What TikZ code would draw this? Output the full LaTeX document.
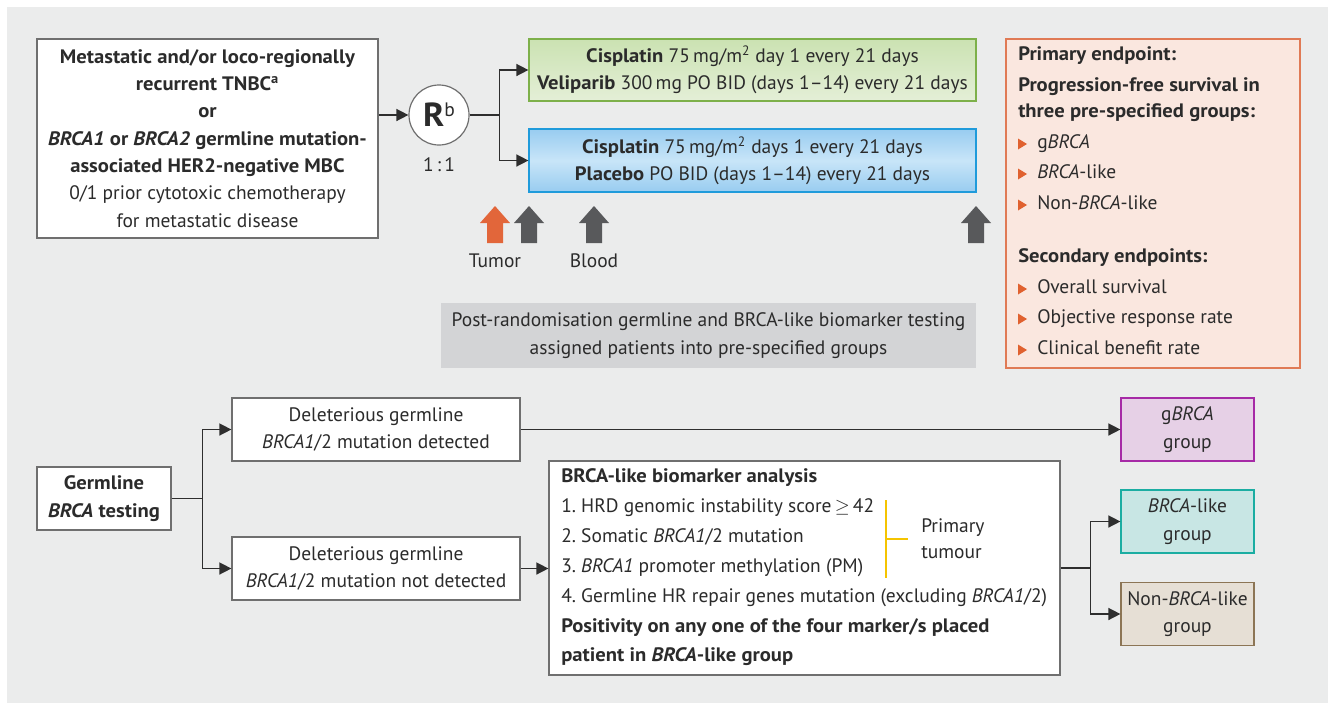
\documentclass[tikz,border=0pt]{standalone}
\usepackage{fontspec}
\setmainfont{PT Sans}[BoldFeatures={FakeStretch=1.06}, BoldItalicFeatures={FakeStretch=1.06}]
\usetikzlibrary{arrows.meta,positioning}

\definecolor{bgcol}{HTML}{EBECEC}
\definecolor{txtcol}{HTML}{2B2B2B}
\definecolor{boxline}{HTML}{6F6F6F}
\definecolor{linecol}{HTML}{2E2E2E}
\definecolor{greenline}{HTML}{7DB04A}
\definecolor{greentop}{HTML}{CBE2B2}
\definecolor{greenbot}{HTML}{E4EFD7}
\definecolor{blueline}{HTML}{1F9BDB}
\definecolor{bluetop}{HTML}{98CCF0}
\definecolor{bluemid}{HTML}{C8E5F8}
\definecolor{epline}{HTML}{E07A55}
\definecolor{epfill}{HTML}{FAE7DF}
\definecolor{bulcol}{HTML}{E0612F}
\definecolor{notecol}{HTML}{D3D4D6}
\definecolor{markgray}{HTML}{58595B}
\definecolor{markorange}{HTML}{E2663A}
\definecolor{ylw}{HTML}{F5C400}
\definecolor{purpline}{HTML}{A62AA6}
\definecolor{purpfill}{HTML}{E6D0E6}
\definecolor{tealline}{HTML}{1BADA2}
\definecolor{tealfill}{HTML}{C8E6E4}
\definecolor{brownline}{HTML}{8C7555}
\definecolor{brownfill}{HTML}{E6DFD5}

\newcommand\txtfont{\fontsize{14.6}{20.5}\selectfont}

\tikzset{
  every node/.append style={text=txtcol, font=\txtfont},
  box/.style={draw=boxline, fill=white, line width=0.9pt, inner sep=0pt, align=center},
  grp/.style={box, minimum width=99.75pt, minimum height=47.25pt},
  ln/.style={anchor=west, inner sep=0pt, text height=10.2pt, text depth=3.1pt},
  conn/.style={draw=linecol, line width=1.1pt, -{Triangle[length=9pt,width=9pt]}},
  upmark/.pic={\fill (-8,0) -- (8,0) -- (8,-20) -- (15,-20) -- (0,-37) -- (-15,-20) -- (-8,-20) -- cycle;}
}

\begin{document}
\begin{tikzpicture}[x=0.75pt,y=-0.75pt]
\useasboundingbox (0,0) rectangle (1332,704);
\fill[bgcol] (7,7) rectangle (1328,703);

% upper part: randomisation
\node[box, minimum width=255.75pt, minimum height=149.25pt] (entry) at (207.5,138.5)
  {\textbf{Metastatic and/or loco-regionally}\\
   \textbf{recurrent TNBC\textsuperscript{a}}\\
   \textbf{or}\\
   \textbf{\textit{BRCA1} or \textit{BRCA2} germline mutation-}\\
   \textbf{associated HER2-negative MBC}\\
   0/1 prior cytotoxic chemotherapy\\
   for metastatic disease};
\node[circle, draw=boxline, fill=white, line width=0.9pt, minimum size=45pt, inner sep=0pt] (rand) at (439,115)
  {{\fontsize{25}{25}\selectfont\bfseries R}\raisebox{7.5pt}{b}};
\node (ratio) at (439,165) {1\,:\,1};
\node[box, draw=greenline, top color=greentop, bottom color=greenbot,
  minimum width=335.25pt, minimum height=46.5pt] (armA) at (752.5,70)
  {\textbf{Cisplatin} 75\,mg/m\textsuperscript{2} day 1 every 21 days\\
   \textbf{Veliparib} 300\,mg PO BID (days 1--14) every 21 days};
\node[box, draw=blueline, top color=bluetop, bottom color=bluetop, middle color=bluemid,
  minimum width=335.25pt, minimum height=47.25pt] (armB) at (752.5,160.5)
  {\textbf{Cisplatin} 75\,mg/m\textsuperscript{2} days 1 every 21 days\\
   \textbf{Placebo} PO BID (days 1--14) every 21 days};

\draw[conn] (entry.east |- rand.west) -- (rand.west);
\draw[conn] (rand.east) -- ++(30,0) |- (armA.west);
\draw[conn] (rand.east) -- ++(30,0) |- (armB.west);

% sampling time points
\pic[markorange] at (495,243) {upmark};
\pic[markgray] at (529,243) {upmark};
\pic[markgray] at (594,243) {upmark};
\pic[markgray] at (976,243) {upmark};
\node (tumor) at (495,261) {Tumor};
\node (blood) at (594,261) {Blood};

\node[fill=notecol, inner sep=0pt, align=center, minimum width=401.25pt, minimum height=48.75pt] (note) at (708.5,335.5)
  {Post-randomisation germline and BRCA-like biomarker testing\\
   assigned patients into pre-specified groups};

% endpoints
\node[draw=epline, fill=epfill, line width=0.9pt, minimum width=220.5pt, minimum height=246.75pt] (endpt) at (1153,203.5) {};
\node[ln] (ep1) at (1018,56) {\textbf{Primary endpoint:}};
\node[ln] (ep2) at (1018,87) {\textbf{Progression-free survival in}};
\node[ln] (ep3) at (1018,113) {\textbf{three pre-specified groups:}};
\node[ln] (ep4) at (1018,258) {\textbf{Secondary endpoints:}};
\foreach \yy/\tx in {144/g\textit{BRCA}, 174/\textit{BRCA}-like, 205/Non-\textit{BRCA}-like,
    289/Overall survival, 319/Objective response rate, 350/Clinical benefit rate}{
  \node[ln] (item\yy) at (1037,\yy) {\tx};
  \fill[bulcol] (1018,\yy-5.5) -- (1027,\yy) -- (1018,\yy+5.5) -- cycle;
}

% lower part: group assignment
\node[box, minimum width=100.5pt, minimum height=47.25pt] (germ) at (104,498.5)
  {\textbf{Germline}\\ \textbf{\textit{BRCA} testing}};
\node[box, minimum width=216pt, minimum height=47.25pt] (det) at (376,429.5)
  {Deleterious germline\\ \textit{BRCA1}/2 mutation detected};
\node[box, minimum width=216pt, minimum height=47.25pt] (nodet) at (376,568.5)
  {Deleterious germline\\ \textit{BRCA1}/2 mutation not detected};
\node[box, minimum width=383.25pt, minimum height=160.5pt] (anal) at (804.5,568) {};
\node[anchor=west, inner sep=0pt, align=left, font=\fontsize{14.6}{22.4}\selectfont] (markers) at (561,567.5)
  {\textbf{BRCA-like biomarker analysis}\\
   1.~HRD genomic instability score\,$\geq$\,42\\
   2.~Somatic \textit{BRCA1}/2 mutation\\
   3.~\textit{BRCA1} promoter methylation (PM)\\
   4.~Germline HR repair genes mutation (excluding \textit{BRCA1}/2)\\
   \textbf{Positivity on any one of the four marker/s placed}\\
   \textbf{patient in \textit{BRCA}-like group}};
\draw[ylw, line width=1.8pt] (886,500) -- (886,578);
\draw[ylw, line width=1.8pt] (886,539) -- (908,539);
\node[anchor=west, inner sep=0pt, align=left, font=\fontsize{14.6}{19.5}\selectfont] (tumour) at (921,539) {Primary\\ tumour};

\node[grp, draw=purpline, fill=purpfill] (gbrca) at (1187.5,429.5) {g\textit{BRCA}\\ group};
\node[grp, draw=tealline, fill=tealfill] (blike) at (1187.5,521.5) {\textit{BRCA}-like\\ group};
\node[grp, draw=brownline, fill=brownfill] (nonb) at (1187.5,614) {Non-\textit{BRCA}-like\\ group};

\draw[conn] (germ.east) -- ++(31,0) |- (det.west);
\draw[conn] (germ.east) -- ++(31,0) |- (nodet.west);
\draw[conn] (det.east) -- (gbrca.west);
\draw[conn] (nodet.east) -- (nodet.east -| anal.west);
\draw[conn] (anal.east) -- ++(30,0) |- (blike.west);
\draw[conn] (anal.east) -- ++(30,0) |- (nonb.west);
\end{tikzpicture}
\end{document}
